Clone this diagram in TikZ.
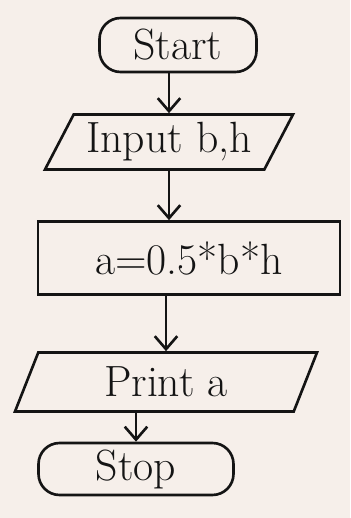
\documentclass[tikz,border=0pt]{standalone}
\usepackage{tikz}
\usetikzlibrary{arrows.meta,positioning,shapes.geometric}
\definecolor{cpaper}{HTML}{F6EFEA}
\definecolor{cink}{HTML}{141414}

\begin{document}
\begin{tikzpicture}[
    box/.style={draw=cink, line width=1.5pt, font=\Huge, text=cink, inner sep=2pt},
    term/.style={box, rounded corners=12pt},
    proc/.style={box},
    iobox/.style={box, trapezium, trapezium left angle=58, trapezium right angle=122,
                  trapezium stretches body=true},
    arr/.style={-{Straight Barb[length=2.6mm, width=4.5mm]}, draw=cink, line width=1.5pt},
]

% Paper background
\fill[cpaper] (0,0) rectangle (7,10.36);
\useasboundingbox (0,0) rectangle (7,10.36);

% === Flowchart nodes ===
\node[term, minimum width=3.14cm, minimum height=1.08cm] (start) at (3.56, 9.46) {Start};
\node[iobox, minimum width=4.96cm, minimum height=1.1cm] (in) at (3.38, 7.52) {Input b,h};
\node[proc, minimum width=6.04cm, minimum height=1.46cm] (area) at (3.78, 5.2) {a=0.5*b*h};
\node[iobox, minimum width=6.04cm, minimum height=1.18cm] (out) at (3.32, 2.72) {Print a};
\node[term, minimum width=3.9cm, minimum height=1.04cm] (stop) at (2.72, 0.98) {Stop};

% === Connectors ===
\draw[arr] (start.south -| in.north) -- (in.north);
\draw[arr] (in.south) -- (in.south |- area.north);
\draw[arr] (area.south -| out.north) -- (out.north);
\draw[arr] (out.south -| stop.north) -- (stop.north);

\end{tikzpicture}
\end{document}
